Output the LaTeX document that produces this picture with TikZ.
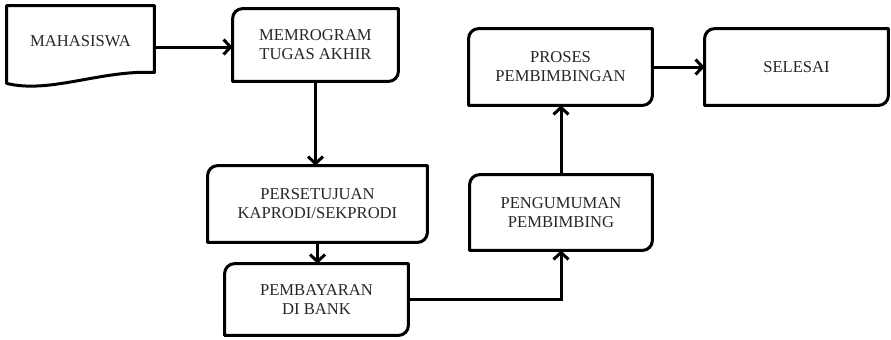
\documentclass[tikz,border=0pt]{standalone}
\usepackage{fontspec}
\setmainfont{Liberation Serif}
\usetikzlibrary{arrows.meta}

\tikzstyle{procbox} = [rectangle, align=center, text=black!85, font=\fontsize{8.3}{9.5}\selectfont, inner sep=0pt]
\tikzstyle{docbox} = [procbox, minimum width=73.5pt, minimum height=35pt]
\tikzstyle{outline} = [line width=1.5pt, line join=round]
\tikzstyle{arrow} = [line width=1.5pt, -{Straight Barb[length=3.5pt,width=7.5pt,line width=1.5pt]}]

% box with rounded top left and bottom right corners
\newcommand{\procoutline}[1]{%
  \draw[outline] (#1.south west) -- ([yshift=-5pt]#1.north west)
    arc[start angle=180, end angle=90, radius=5pt] -- (#1.north east)
    -- ([yshift=5pt]#1.south east)
    arc[start angle=0, end angle=-90, radius=5pt] -- cycle;}

\begin{document}
\begin{tikzpicture}[x=1pt, y=1pt]
\useasboundingbox (0,0) rectangle (445.5,-169.5);

\node (mhs) [docbox] at (40.25,-20.5) {MAHASISWA};
\node (mem) [procbox, minimum width=82.5pt, minimum height=36pt] at (157.75,-22.5) {MEMROGRAM\\TUGAS AKHIR};
\node (per) [procbox, minimum width=109.5pt, minimum height=38pt] at (158.75,-102) {PERSETUJUAN\\KAPRODI/SEKPRODI};
\node (bay) [procbox, minimum width=91.5pt, minimum height=35.5pt] at (158.25,-149.75) {PEMBAYARAN\\DI BANK};
\node (pen) [procbox, minimum width=91pt, minimum height=37.5pt] at (280.5,-106.25) {PENGUMUMAN\\PEMBIMBING};
\node (pro) [procbox, minimum width=91.5pt, minimum height=38pt] at (280.25,-33.5) {PROSES\\PEMBIMBINGAN};
\node (sel) [procbox, minimum width=91.5pt, minimum height=38pt] at (398.25,-33.5) {SELESAI};
\coordinate (memin) at ([yshift=-1pt]mem.west);

%% outlines
\draw[outline] (mhs.north west) -- (mhs.north east) -- ([yshift=2pt]mhs.south east)
  .. controls (50,-35) and (25,-47) .. ([yshift=-3.5pt]mhs.south west) -- cycle;
\procoutline{mem}
\procoutline{per}
\procoutline{bay}
\procoutline{pen}
\procoutline{pro}
\procoutline{sel}

%% arrows
\draw [arrow] (mhs.east |- memin) -- (memin);
\draw [arrow] (mem.south) -- (mem.south |- per.north);
\draw [arrow] (per.south) -- (per.south |- bay.north);
\draw [arrow] (bay.east) -| (pen.south);
\draw [arrow] (pen.north) -- (pen.north |- pro.south);
\draw [arrow] (pro.east) -- (sel.west);

\end{tikzpicture}
\end{document}
